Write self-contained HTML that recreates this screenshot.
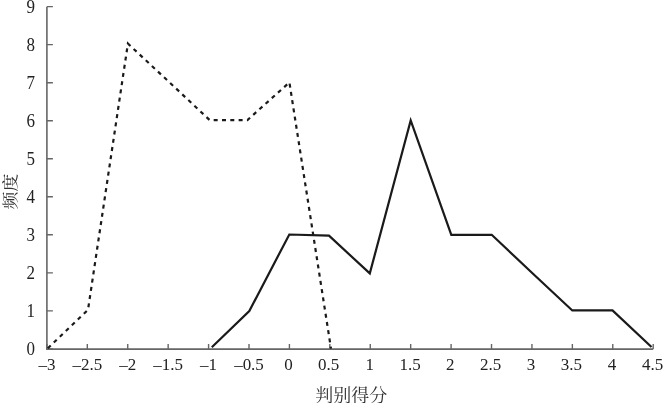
<!DOCTYPE html>
<html><head><meta charset="utf-8"><style>
html,body{margin:0;padding:0;background:#fff;}
body{width:663px;height:403px;overflow:hidden;}
svg{display:block;will-change:transform;}
text{font-family:"Liberation Serif","Noto Serif CJK SC",serif;font-size:17px;fill:#222;}
text.cjk{font-family:"Liberation Serif","Noto Serif CJK SC",serif;font-size:18px;fill:#333;}
</style></head><body>
<svg width="663" height="403" viewBox="0 0 663 403">
<path d="M46.90 6.63V349.10H653.20" fill="none" stroke="#666" stroke-width="1.6"/>
<path d="M46.90 348.90H52.90 M46.90 310.87H52.90 M46.90 272.84H52.90 M46.90 234.81H52.90 M46.90 196.78H52.90 M46.90 158.75H52.90 M46.90 120.72H52.90 M46.90 82.69H52.90 M46.90 44.66H52.90 M46.90 6.63H52.90 M46.90 348.90V344.10 M87.32 348.90V344.10 M127.74 348.90V344.10 M168.16 348.90V344.10 M208.58 348.90V344.10 M249.00 348.90V344.10 M289.42 348.90V344.10 M329.84 348.90V344.10 M370.26 348.90V344.10 M410.68 348.90V344.10 M451.10 348.90V344.10 M491.52 348.90V344.10 M531.94 348.90V344.10 M572.36 348.90V344.10 M612.78 348.90V344.10 M653.20 348.90V344.10" fill="none" stroke="#666" stroke-width="1.4"/>
<polyline points="47.50,348.60 88.00,309.80 127.90,43.60 168.70,81.60 209.70,120.10 247.40,120.10 289.40,82.40 331.00,348.60" fill="none" stroke="#1a1a1a" stroke-width="2.2" stroke-dasharray="4 4.3165" stroke-dashoffset="-0.45" stroke-miterlimit="10"/>
<polyline points="211.80,347.30 249.30,311.00 289.30,234.50 329.00,235.70 369.80,273.40 410.70,120.40 451.30,234.80 491.70,234.80 532.20,273.00 572.30,310.45 612.50,310.45 651.50,347.00" fill="none" stroke="#1a1a1a" stroke-width="2.2" stroke-miterlimit="10"/>
<text transform="translate(35.0,354.90) scale(1,1.06)" text-anchor="end">0</text>
<text transform="translate(35.0,316.87) scale(1,1.06)" text-anchor="end">1</text>
<text transform="translate(35.0,278.84) scale(1,1.06)" text-anchor="end">2</text>
<text transform="translate(35.0,240.81) scale(1,1.06)" text-anchor="end">3</text>
<text transform="translate(35.0,202.78) scale(1,1.06)" text-anchor="end">4</text>
<text transform="translate(35.0,164.75) scale(1,1.06)" text-anchor="end">5</text>
<text transform="translate(35.0,126.72) scale(1,1.06)" text-anchor="end">6</text>
<text transform="translate(35.0,88.69) scale(1,1.06)" text-anchor="end">7</text>
<text transform="translate(35.0,50.66) scale(1,1.06)" text-anchor="end">8</text>
<text transform="translate(35.0,12.63) scale(1,1.06)" text-anchor="end">9</text>
<text transform="translate(46.90,370.2) scale(1,1.03)" text-anchor="middle">–3</text>
<text transform="translate(87.32,370.2) scale(1,1.03)" text-anchor="middle">–2.5</text>
<text transform="translate(127.74,370.2) scale(1,1.03)" text-anchor="middle">–2</text>
<text transform="translate(168.16,370.2) scale(1,1.03)" text-anchor="middle">–1.5</text>
<text transform="translate(208.58,370.2) scale(1,1.03)" text-anchor="middle">–1</text>
<text transform="translate(249.00,370.2) scale(1,1.03)" text-anchor="middle">–0.5</text>
<text transform="translate(288.52,370.2) scale(1,1.03)" text-anchor="middle">0</text>
<text transform="translate(328.64,370.2) scale(1,1.03)" text-anchor="middle">0.5</text>
<text transform="translate(369.66,370.2) scale(1,1.03)" text-anchor="middle">1</text>
<text transform="translate(410.08,370.2) scale(1,1.03)" text-anchor="middle">1.5</text>
<text transform="translate(450.20,370.2) scale(1,1.03)" text-anchor="middle">2</text>
<text transform="translate(490.62,370.2) scale(1,1.03)" text-anchor="middle">2.5</text>
<text transform="translate(531.04,370.2) scale(1,1.03)" text-anchor="middle">3</text>
<text transform="translate(571.46,370.2) scale(1,1.03)" text-anchor="middle">3.5</text>
<text transform="translate(611.88,370.2) scale(1,1.03)" text-anchor="middle">4</text>
<text transform="translate(652.60,370.2) scale(1,1.03)" text-anchor="middle">4.5</text>
<text x="351.3" y="402.2" text-anchor="middle" class="cjk">判别得分</text>
<text transform="translate(15.55,191.5) rotate(-90) scale(1,0.9)" text-anchor="middle" class="cjk">频度</text>
</svg>
</body></html>
